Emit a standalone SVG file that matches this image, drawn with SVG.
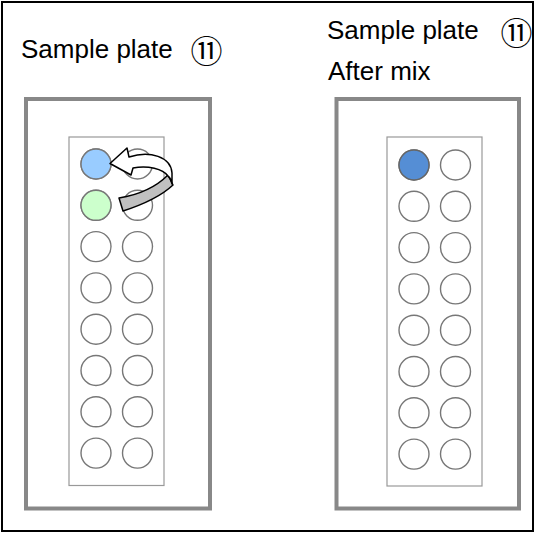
<svg xmlns="http://www.w3.org/2000/svg" width="535" height="533" viewBox="0 0 535 533">
<style>
.lbl{font-family:"Liberation Sans","Noto Sans CJK JP",sans-serif;font-size:26px;fill:#000}
.num{font-family:"Noto Sans CJK JP","DejaVu Sans",sans-serif;font-size:32px;fill:#000;text-anchor:middle}
.tray{fill:#fff;stroke:#888;stroke-width:4}
.plate{fill:#fff;stroke:#999;stroke-width:1.2}
.well{fill:#fff;stroke:#777;stroke-width:1.4}
</style>
<defs>
<g id="col">
<circle class="well" cx="0" cy="0" r="15"/>
<circle class="well" cx="0" cy="41.3" r="15"/>
<circle class="well" cx="0" cy="82.6" r="15"/>
<circle class="well" cx="0" cy="123.9" r="15"/>
<circle class="well" cx="0" cy="165.2" r="15"/>
<circle class="well" cx="0" cy="206.5" r="15"/>
<circle class="well" cx="0" cy="247.8" r="15"/>
<circle class="well" cx="0" cy="289.1" r="15"/>
</g>
</defs>
<rect x="0" y="0" width="535" height="533" fill="#fff"/>
<rect x="2" y="2" width="531" height="529" fill="none" stroke="#000" stroke-width="2"/>

<g id="left-panel">
<text class="lbl" x="21" y="58">Sample plate</text>
<text class="num" x="206.5" y="63">⑪</text>
<rect class="tray" x="26" y="99" width="184" height="409.5"/>
<rect class="plate" x="69" y="137" width="95" height="348.5"/>
<use href="#col" x="96" y="164"/>
<use href="#col" x="137.5" y="164"/>
<circle id="well-left-a1" cx="96" cy="164" r="15" fill="#99CCFF" stroke="#777" stroke-width="1.4"/>
<circle id="well-left-b1" cx="96" cy="205.3" r="15" fill="#CCFFCC" stroke="#777" stroke-width="1.4"/>
</g>

<g id="right-panel">
<text class="lbl" x="327" y="39">Sample plate</text>
<text class="num" x="516.5" y="45">⑪</text>
<text class="lbl" x="328" y="80">After mix</text>
<rect class="tray" x="336.5" y="99" width="182.5" height="409.5"/>
<rect class="plate" x="387" y="137" width="95" height="349"/>
<use href="#col" x="414" y="165"/>
<use href="#col" x="455.5" y="165"/>
<circle id="well-right-a1" cx="414" cy="165" r="15" fill="#558ED5" stroke="#666" stroke-width="1.4"/>
</g>

<g id="connectors">
<path d="M168 175 Q150 193 119 198 L123 211 Q157 200 173 185 Z" fill="#C0C0C0" stroke="#000" stroke-width="1.5" stroke-linejoin="round"/>
<path d="M129 157 C150 150 171 157 172 173 L172 184 C171 178 169 177 168 176 C163 169 148 165 133 168 L131 175 L110 163.5 L127 148 Z" fill="#fff" stroke="#000" stroke-width="1.5" stroke-linejoin="round"/>
</g>
</svg>
